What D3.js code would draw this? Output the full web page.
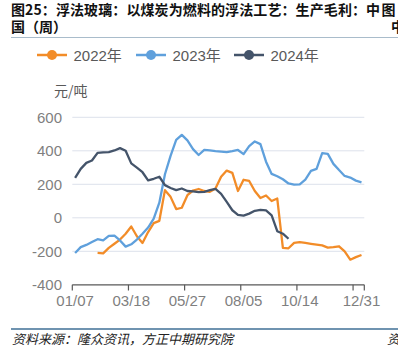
<!DOCTYPE html>
<html>
<head>
<meta charset="utf-8">
<script src="https://cdn.jsdelivr.net/npm/d3@7"></script>
<style>
  body { margin: 0; background: #fff; overflow: hidden; }
  svg { display: block; font-family: "Liberation Sans", Arial, "Noto Sans CJK SC", sans-serif; }
</style>
</head>
<body>
<svg id="chart" width="398" height="353"></svg>
<script>
// 周度日期(类目)
const weeks = ['01/07','01/14','01/21','01/28','02/04','02/11','02/18','02/25','03/04','03/11',
  '03/18','03/25','04/01','04/08','04/15','04/22','04/29','05/06','05/13','05/20',
  '05/27','06/03','06/10','06/17','06/24','07/01','07/08','07/15','07/22','07/29',
  '08/05','08/12','08/19','08/26','09/02','09/09','09/16','09/23','09/30','10/07',
  '10/14','10/21','10/28','11/04','11/11','11/18','11/25','12/02','12/09','12/16',
  '12/23','12/31'];
// 显示的标签
const labelWeeks = ['01/07','03/18','05/27','08/05','10/14','12/31'];
// 刻度线所在类目
const tickWeeks = ['01/07','03/18','05/27','08/05','10/14','12/23'];
const yTicks = [-400, -200, 0, 200, 400, 600];

// 2022年 (前4周无数据)
const v2022 = [null, null, null, null, -210, -212, -180, -155, -130, -95,
  -52, -110, -150, -85, -32, -18, 165, 125, 52, 60,
  135, 163, 172, 160, 155, 175, 245, 282, 268, 160,
  227, 220, 160, 118, 133, 100, 115, -180, -182, -150,
  -145, -150, -155, -160, -165, -178, -175, -170, -200, -250,
  -235, -222];
// 2023年
const v2023 = [-210, -175, -162, -145, -128, -135, -108, -106, -135, -172,
  -158, -130, -95, -58, -5, 90, 260, 370, 465, 495,
  462, 410, 375, 405, 402, 398, 395, 392, 398, 405,
  380, 428, 456, 440, 335, 262, 248, 230, 205, 198,
  200, 228, 280, 292, 386, 382, 322, 285, 250, 240,
  222, 212];
// 2024年
const v2024 = [238, 292, 328, 342, 388, 390, 392, 402, 416, 400,
  325, 300, 272, 223, 233, 245, 195, 178, 165, 175,
  160, 158, 153, 155, 165, 172, 143, 95, 45, 18,
  13, 25, 42, 47, 44, 15, -80, -95, -125];

const series = [
  {name: '2022年', values: v2022, color: '#f28c28'},
  {name: '2023年', values: v2023, color: '#5fa0dc'},
  {name: '2024年', values: v2024, color: '#44546a'}
];

const svg = d3.select('#chart');

// 标题
const title = svg.append('g')
  .style('font-family', '"Noto Sans CJK SC", sans-serif')
  .style('font-weight', 'bold')
  .style('font-size', '14px')
  .attr('fill', '#111');
title.append('text').attr('x', 11).attr('y', 14.5)
  .style('letter-spacing', '0.1px')
  .text('图25：浮法玻璃：以煤炭为燃料的浮法工艺：生产毛利：中');
title.append('text').attr('x', 381.5).attr('y', 14.5).text('图');
title.append('text').attr('x', 11).attr('y', 32).text('国（周）');
title.append('text').attr('x', 391).attr('y', 32).text('中');

svg.append('line')
  .attr('x1', 11).attr('x2', 398).attr('y1', 37.5).attr('y2', 37.5)
  .attr('stroke', '#a9bccb').attr('stroke-width', 1);

// 图例
const legendX = [37, 136, 234];
const legend = svg.append('g');
series.forEach(function (s, i) {
  let g = legend.append('g').attr('transform', 'translate(' + legendX[i] + ',55)');
  g.append('line').attr('x1', 0).attr('x2', 30).attr('y1', 0).attr('y2', 0)
    .attr('stroke', s.color).attr('stroke-width', 2.5);
  g.append('circle').attr('cx', 15).attr('cy', 0).attr('r', 5).attr('fill', s.color);
  g.append('text').attr('x', 36.5).attr('y', 5.5)
    .style('font-size', '15px').attr('fill', '#595959').text(s.name);
});

// 单位
svg.append('text').attr('x', 54).attr('y', 96)
  .style('font-family', '"Noto Sans CJK SC", sans-serif')
  .style('font-size', '14px').attr('fill', '#595959').text('元/吨');

// 比例尺
const x = d3.scaleBand().domain(weeks).range([72.3, 364.3]).paddingInner(0).paddingOuter(0);
const y = d3.scaleLinear().domain([-400, 600]).range([284.8, 117.3]);
const cx = d => x(d) + x.bandwidth() / 2;

// 网格线
svg.append('g').selectAll('line')
  .data(yTicks.filter(d => d > -400))
  .enter().append('line')
  .attr('x1', 72.3).attr('x2', 364.3)
  .attr('y1', d => y(d)).attr('y2', d => y(d))
  .attr('stroke', '#dde1eb').attr('stroke-width', 1);

// y 轴标签
svg.append('g').selectAll('text')
  .data(yTicks)
  .enter().append('text')
  .attr('x', 62).attr('y', d => y(d) + 5.5)
  .attr('text-anchor', 'end')
  .style('font-size', '15px').attr('fill', '#7f7f7f')
  .text(d => d);

// 折线
const line = d3.line()
  .defined(d => d.v !== null)
  .x(d => cx(d.w))
  .y(d => y(d.v));

series.forEach(function (s) {
  let data = s.values.map((v, i) => ({w: weeks[i], v: v}));
  svg.append('path')
    .datum(data)
    .attr('d', line)
    .attr('fill', 'none')
    .attr('stroke', s.color)
    .attr('stroke-width', 2.3)
    .attr('stroke-linejoin', 'round');
});

// x 轴
const axisG = svg.append('g');
axisG.append('line')
  .attr('x1', 72.3).attr('x2', 364.3).attr('y1', 284.8).attr('y2', 284.8)
  .attr('stroke', '#595959').attr('stroke-width', 1.2);
let tickX = tickWeeks.map(w => x(w)).concat([364.3]);
axisG.selectAll('.tk').data(tickX).enter().append('line')
  .attr('x1', d => d).attr('x2', d => d).attr('y1', 284.8).attr('y2', 290.5)
  .attr('stroke', '#595959').attr('stroke-width', 1.2);
axisG.selectAll('.lb').data(labelWeeks).enter().append('text')
  .attr('x', d => cx(d)).attr('y', 305.5)
  .attr('text-anchor', 'middle')
  .style('font-size', '15px').attr('fill', '#7f7f7f')
  .text(d => d);

// 底部
svg.append('line')
  .attr('x1', 11).attr('x2', 398).attr('y1', 329).attr('y2', 329)
  .attr('stroke', '#3f6f96').attr('stroke-width', 1.5);
const src = svg.append('g')
  .style('font-family', '"Noto Sans CJK SC", sans-serif')
  .style('font-style', 'italic')
  .style('font-size', '13px')
  .attr('fill', '#222');
src.append('text').attr('x', 12).attr('y', 344).text('资料来源：隆众资讯，方正中期研究院');
src.append('text').attr('x', 387).attr('y', 344).text('资');
</script>
</body>
</html>
